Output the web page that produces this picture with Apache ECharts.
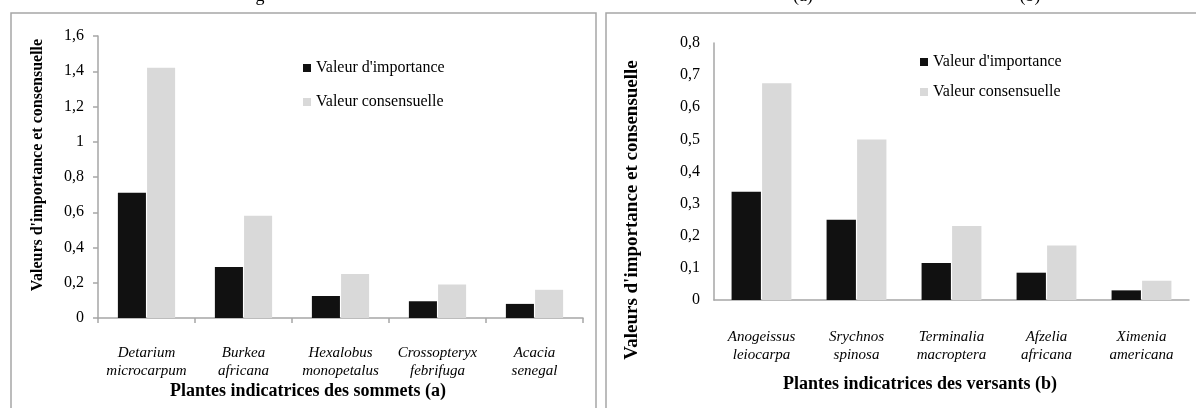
<!DOCTYPE html>
<html>
<head>
<meta charset="utf-8">
<script src="https://cdn.jsdelivr.net/npm/echarts@6/dist/echarts.min.js"></script>
<style>
  html, body { margin: 0; padding: 0; background: #ffffff; }
  #chart { width: 1196px; height: 408px; }
</style>
</head>
<body>
<div id="chart"></div>
<script>
// Plantes indicatrices des sommets (a)
const sommetsPlantes = ['Detarium\nmicrocarpum', 'Burkea\nafricana', 'Hexalobus\nmonopetalus', 'Crossopteryx\nfebrifuga', 'Acacia\nsenegal'];
const sommetsImportance = [0.71, 0.29, 0.125, 0.095, 0.08];
const sommetsConsensus = [1.42, 0.58, 0.25, 0.19, 0.16];

// Plantes indicatrices des versants (b)
const versantsPlantes = ['Anogeissus\nleiocarpa', 'Srychnos\nspinosa', 'Terminalia\nmacroptera', 'Afzelia\nafricana', 'Ximenia\namericana'];
const versantsImportance = [0.337, 0.25, 0.115, 0.085, 0.03];
const versantsConsensus = [0.675, 0.5, 0.23, 0.17, 0.06];

const seriesNames = ["Valeur d'importance", 'Valeur consensuelle'];
const yAxisTitle = "Valeurs d'importance et consensuelle";
const xAxisTitles = ['Plantes indicatrices des sommets (a)', 'Plantes indicatrices des versants (b)'];

const SERIF = '"Liberation Serif", "Times New Roman", serif';
const AXIS_GREY = '#a6a6a6';
const DARK = '#111111';
const LIGHT = '#d9d9d9';

const decimalComma = v => String(Math.round(v * 10) / 10).replace('.', ',');

const chart = echarts.init(document.getElementById('chart'), null, { renderer: 'canvas' });

function xAxisFor(gridIndex, cats, withTicks, labelMargin) {
  return {
    type: 'category', gridIndex, data: cats,
    axisLine: { lineStyle: { color: AXIS_GREY, width: 1.5 } },
    axisTick: { show: withTicks, length: 5, lineStyle: { color: AXIS_GREY, width: 1.5 } },
    axisLabel: { fontFamily: SERIF, fontStyle: 'italic', fontSize: 15, color: '#000', lineHeight: 18, margin: labelMargin, interval: 0 }
  };
}

function yAxisFor(gridIndex, max, step, withTicks, labelMargin) {
  return {
    type: 'value', gridIndex, min: 0, max, interval: step,
    splitLine: { show: false },
    axisLine: { show: true, lineStyle: { color: AXIS_GREY, width: 1.5 } },
    axisTick: { show: withTicks, length: 5, lineStyle: { color: AXIS_GREY, width: 1.5 } },
    axisLabel: { fontFamily: SERIF, fontSize: 16, color: '#000', margin: labelMargin, formatter: decimalComma }
  };
}

function barSeries(name, xi, data, color, catGap) {
  return {
    type: 'bar', name, xAxisIndex: xi, yAxisIndex: xi, data,
    itemStyle: { color }, barGap: '4%', barCategoryGap: catGap,
    emphasis: { disabled: true }
  };
}

const legendText = { fontFamily: SERIF, fontSize: 16, color: '#000' };

chart.setOption({
  animation: false,
  backgroundColor: '#ffffff',
  grid: [
    { left: 98, right: 613, top: 36, bottom: 90 },
    { left: 714, right: 7, top: 43, bottom: 108 }
  ],
  xAxis: [
    xAxisFor(0, sommetsPlantes, true, 26),
    xAxisFor(1, versantsPlantes, false, 28)
  ],
  yAxis: [
    yAxisFor(0, 1.6, 0.2, true, 14),
    yAxisFor(1, 0.8, 0.1, false, 14)
  ],
  legend: [
    { data: seriesNames, orient: 'vertical', left: 298, top: 55, itemWidth: 8, itemHeight: 8, itemGap: 18, icon: 'rect', textStyle: legendText, selectedMode: false },
    { data: seriesNames, orient: 'vertical', left: 915, top: 49, itemWidth: 8, itemHeight: 8, itemGap: 14, icon: 'rect', textStyle: legendText, selectedMode: false }
  ],
  series: [
    barSeries(seriesNames[0], 0, sommetsImportance, DARK, '41%'),
    barSeries(seriesNames[1], 0, sommetsConsensus, LIGHT, '41%'),
    barSeries(seriesNames[0], 1, versantsImportance, DARK, '37%'),
    barSeries(seriesNames[1], 1, versantsConsensus, LIGHT, '37%')
  ],
  graphic: [
    // panel frames
    { type: 'rect', silent: true, shape: { x: 11, y: 13, width: 585, height: 430 }, style: { fill: null, stroke: AXIS_GREY, lineWidth: 1.5 } },
    { type: 'rect', silent: true, shape: { x: 606, y: 13, width: 600, height: 430 }, style: { fill: null, stroke: AXIS_GREY, lineWidth: 1.5 } },
    // caption line above the panels, mostly cut off by the top edge
    { type: 'text', silent: true, x: 260, y: 5, style: { text: 'g', font: '18px ' + SERIF, fill: '#000', align: 'center', verticalAlign: 'bottom' } },
    { type: 'text', silent: true, x: 803, y: 5, style: { text: '(a)', font: '18px ' + SERIF, fill: '#000', align: 'center', verticalAlign: 'bottom' } },
    { type: 'text', silent: true, x: 1030, y: 5, style: { text: '(b)', font: '18px ' + SERIF, fill: '#000', align: 'center', verticalAlign: 'bottom' } },
    // y axis titles
    { type: 'text', silent: true, x: 38, y: 165, rotation: Math.PI / 2, style: { text: yAxisTitle, font: 'bold 16px ' + SERIF, fill: '#000', align: 'center', verticalAlign: 'middle' } },
    { type: 'text', silent: true, x: 632, y: 210, rotation: Math.PI / 2, style: { text: yAxisTitle, font: 'bold 19px ' + SERIF, fill: '#000', align: 'center', verticalAlign: 'middle' } },
    // x axis titles
    { type: 'text', silent: true, x: 308, y: 391, style: { text: xAxisTitles[0], font: 'bold 18px ' + SERIF, fill: '#000', align: 'center', verticalAlign: 'middle' } },
    { type: 'text', silent: true, x: 920, y: 384, style: { text: xAxisTitles[1], font: 'bold 18px ' + SERIF, fill: '#000', align: 'center', verticalAlign: 'middle' } }
  ]
});
</script>
</body>
</html>
